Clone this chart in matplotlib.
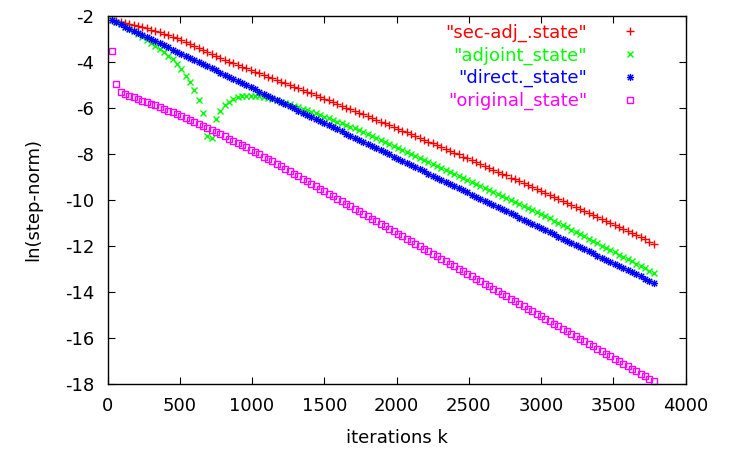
import matplotlib
matplotlib.use('Agg')
import matplotlib.pyplot as plt
from matplotlib.path import Path
import numpy as np

plt.rcParams['font.family'] = ['DejaVu Sans']
plt.rcParams['font.size'] = 13
plt.rcParams['axes.unicode_minus'] = False

# 反復回数 (30刻み)
iterations = list(range(30, 3781, 30))

sec_adj_state = [
    -2.20, -2.24, -2.28, -2.32, -2.36, -2.41, -2.45, -2.50, -2.55, -2.60,
    -2.66, -2.72, -2.78, -2.85, -2.92, -2.99, -3.07, -3.15, -3.23, -3.32,
    -3.41, -3.50, -3.58, -3.66, -3.75, -3.83, -3.91, -3.99, -4.07, -4.14,
    -4.22, -4.29, -4.36, -4.43, -4.50, -4.57, -4.65, -4.72, -4.79, -4.87,
    -4.94, -5.01, -5.09, -5.16, -5.23, -5.31, -5.38, -5.46, -5.53, -5.61,
    -5.68, -5.76, -5.83, -5.91, -5.99, -6.06, -6.14, -6.22, -6.29, -6.37,
    -6.45, -6.52, -6.60, -6.68, -6.76, -6.84, -6.91, -6.99, -7.07, -7.15,
    -7.23, -7.31, -7.39, -7.47, -7.55, -7.63, -7.71, -7.79, -7.87, -7.95,
    -8.03, -8.12, -8.20, -8.28, -8.36, -8.44, -8.53, -8.61, -8.69, -8.77,
    -8.86, -8.94, -9.03, -9.11, -9.19, -9.28, -9.36, -9.45, -9.53, -9.62,
    -9.70, -9.79, -9.87, -9.96, -10.05, -10.13, -10.22, -10.31, -10.39, -10.48,
    -10.57, -10.65, -10.74, -10.83, -10.92, -11.01, -11.09, -11.18, -11.27, -11.36,
    -11.45, -11.54, -11.63, -11.72, -11.81, -11.90]

adjoint_state = [
    -2.19, -2.28, -2.38, -2.48, -2.58, -2.68, -2.79, -2.92, -3.05, -3.18,
    -3.30, -3.44, -3.59, -3.75, -3.90, -4.10, -4.33, -4.60, -4.90, -5.23,
    -5.68, -6.24, -7.24, -7.33, -6.50, -6.13, -5.87, -5.74, -5.63, -5.55,
    -5.51, -5.48, -5.47, -5.48, -5.50, -5.53, -5.57, -5.62, -5.67, -5.73,
    -5.79, -5.85, -5.91, -5.98, -6.04, -6.11, -6.17, -6.24, -6.31, -6.38,
    -6.45, -6.52, -6.60, -6.67, -6.74, -6.82, -6.90, -6.98, -7.06, -7.14,
    -7.22, -7.30, -7.39, -7.47, -7.56, -7.64, -7.73, -7.82, -7.91, -7.99,
    -8.08, -8.17, -8.26, -8.35, -8.43, -8.52, -8.61, -8.70, -8.79, -8.87,
    -8.96, -9.05, -9.14, -9.22, -9.31, -9.40, -9.49, -9.58, -9.66, -9.75,
    -9.84, -9.93, -10.02, -10.10, -10.19, -10.28, -10.37, -10.46, -10.54, -10.63,
    -10.72, -10.81, -10.91, -11.00, -11.10, -11.20, -11.30, -11.40, -11.50, -11.59,
    -11.69, -11.79, -11.89, -11.99, -12.09, -12.18, -12.28, -12.38, -12.48, -12.58,
    -12.67, -12.77, -12.87, -12.97, -13.07, -13.17]

direct_state = [
    -2.19, -2.28, -2.37, -2.47, -2.56, -2.65, -2.74, -2.83, -2.92, -3.01,
    -3.10, -3.20, -3.29, -3.38, -3.47, -3.56, -3.65, -3.74, -3.83, -3.93,
    -4.02, -4.11, -4.20, -4.29, -4.38, -4.47, -4.57, -4.66, -4.75, -4.84,
    -4.93, -5.02, -5.11, -5.20, -5.30, -5.39, -5.48, -5.57, -5.66, -5.75,
    -5.84, -5.93, -6.03, -6.12, -6.21, -6.30, -6.39, -6.48, -6.57, -6.67,
    -6.76, -6.85, -6.94, -7.03, -7.12, -7.21, -7.30, -7.40, -7.49, -7.58,
    -7.67, -7.76, -7.85, -7.94, -8.03, -8.13, -8.22, -8.31, -8.40, -8.49,
    -8.58, -8.67, -8.76, -8.86, -8.95, -9.04, -9.13, -9.22, -9.31, -9.40,
    -9.50, -9.59, -9.68, -9.77, -9.86, -9.95, -10.04, -10.13, -10.23, -10.32,
    -10.41, -10.50, -10.59, -10.68, -10.77, -10.86, -10.96, -11.05, -11.14, -11.23,
    -11.32, -11.41, -11.50, -11.60, -11.69, -11.78, -11.87, -11.96, -12.05, -12.14,
    -12.23, -12.33, -12.42, -12.51, -12.60, -12.69, -12.78, -12.87, -12.96, -13.06,
    -13.15, -13.24, -13.33, -13.42, -13.51, -13.60]

original_state = [
    -3.53, -4.96, -5.30, -5.42, -5.49, -5.55, -5.62, -5.69, -5.76, -5.83,
    -5.90, -5.97, -6.04, -6.12, -6.20, -6.28, -6.36, -6.45, -6.53, -6.62,
    -6.70, -6.79, -6.88, -6.97, -7.06, -7.15, -7.24, -7.34, -7.43, -7.53,
    -7.62, -7.72, -7.82, -7.92, -8.02, -8.12, -8.22, -8.33, -8.43, -8.54,
    -8.65, -8.76, -8.87, -8.97, -9.08, -9.19, -9.30, -9.41, -9.52, -9.63,
    -9.73, -9.84, -9.95, -10.06, -10.17, -10.28, -10.39, -10.49, -10.60, -10.71,
    -10.82, -10.93, -11.04, -11.15, -11.26, -11.36, -11.47, -11.58, -11.69, -11.80,
    -11.91, -12.02, -12.12, -12.23, -12.34, -12.45, -12.56, -12.67, -12.78, -12.88,
    -12.99, -13.10, -13.21, -13.32, -13.43, -13.54, -13.64, -13.75, -13.86, -13.97,
    -14.08, -14.19, -14.30, -14.40, -14.51, -14.62, -14.73, -14.84, -14.95, -15.06,
    -15.16, -15.27, -15.38, -15.49, -15.60, -15.71, -15.82, -15.92, -16.03, -16.14,
    -16.25, -16.36, -16.47, -16.58, -16.68, -16.79, -16.90, -17.01, -17.12, -17.23,
    -17.34, -17.44, -17.55, -17.66, -17.77, -17.88]

labels = ['"sec-adj_.state"', '"adjoint_state"', '"direct._state"', '"original_state"']
colors = ['#ff0000', '#00ff00', '#0000ff', '#ff00ff']

# gnuplotの * (+ と x を重ねたもの)
asterisk = Path([(-1, 0), (1, 0), (0, -1), (0, 1),
                 (-0.75, -0.75), (0.75, 0.75), (-0.75, 0.75), (0.75, -0.75)],
                [Path.MOVETO, Path.LINETO] * 4)
markers = ['+', 'x', asterisk, 's']
sizes = [5.2, 4.5, 5.2, 4.6]

series = [sec_adj_state, adjoint_state, direct_state, original_state]

fig = plt.figure(figsize=(7.29, 4.51), dpi=100)
ax = fig.add_axes([0.1475, 0.1486, 0.7929, 0.8166])

for ys, lab, c, m, s in zip(series, labels, colors, markers, sizes):
    ax.plot(iterations, ys, ls='none', marker=m, ms=s, mew=1.0, mec=c, mfc='none',
            label=lab, clip_on=False)

ax.set_xlim(0, 4000)
ax.set_ylim(-18, -2)
ax.set_xticks(range(0, 4001, 500))
ax.set_yticks(range(-18, -1, 2))
ax.tick_params(direction='in', length=5, width=0.8, top=True, right=True,
               labeltop=False, labelright=False, labelsize=13)
ax.tick_params(axis='y', pad=9.5)
ax.tick_params(axis='x', pad=9.5)
for sp in ax.spines.values():
    sp.set_linewidth(1.0)

ax.set_xlabel('iterations k', fontsize=13)
ax.set_ylabel('ln(step-norm)', fontsize=13)
ax.xaxis.set_label_coords(0.5, -0.123)
ax.yaxis.set_label_coords(-0.113, 0.5)

ax.legend(loc='upper right', bbox_to_anchor=(0.9196, 0.9786), markerfirst=False,
          frameon=False, handlelength=1.0, handletextpad=1.88, labelspacing=0.25,
          borderpad=0, borderaxespad=0, numpoints=1, labelcolor='markeredgecolor',
          fontsize=13)

plt.savefig('out.png', dpi=100)
plt.close()
